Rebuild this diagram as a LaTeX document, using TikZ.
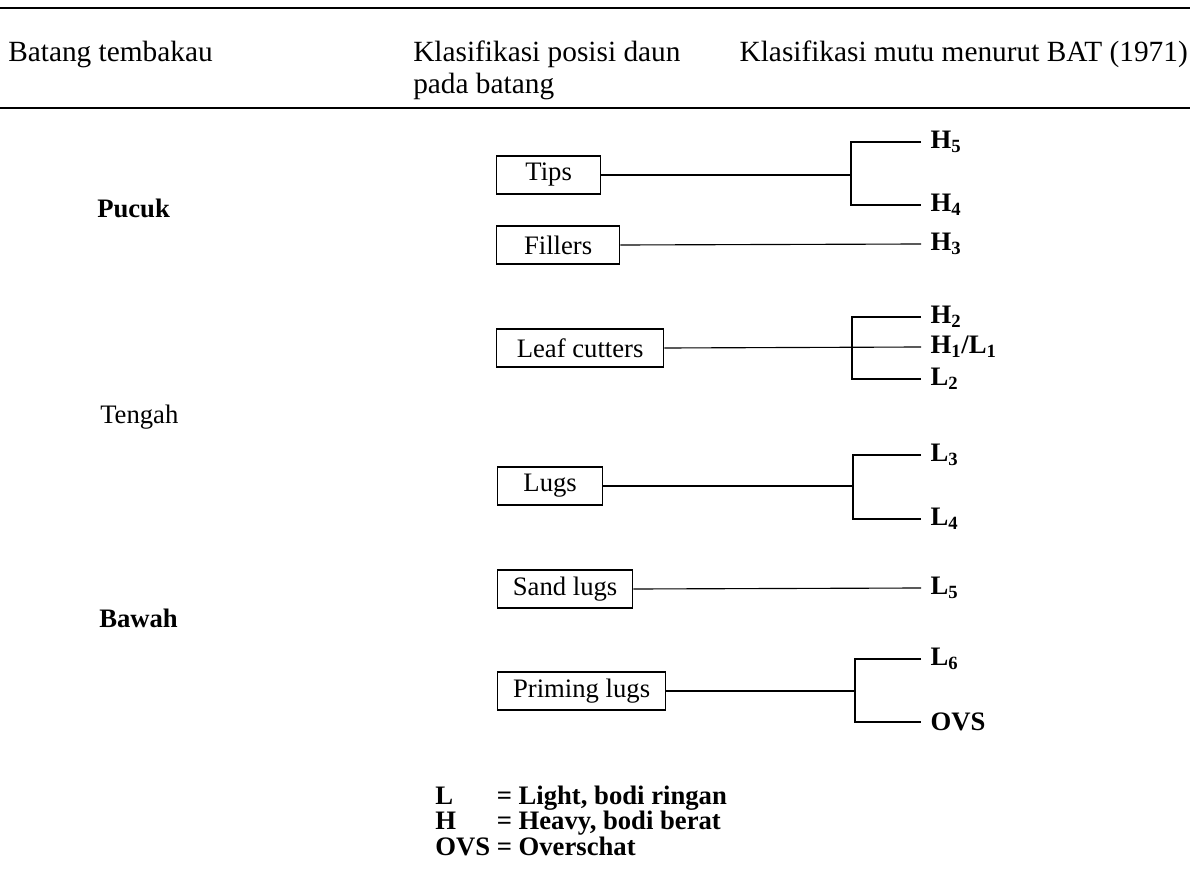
\documentclass[tikz,border=0pt]{standalone}
\usepackage{fontspec}
\setmainfont{Liberation Serif}
\usepackage{xcolor}

\begin{document}
\begin{tikzpicture}[x=0.75pt,y=0.75pt,yscale=-1,xscale=1,
  box/.style={draw, line width=0.95pt, anchor=west, minimum height=28.5pt, inner ysep=0pt, inner xsep=2pt},
  grade/.style={anchor=west, inner xsep=7pt, inner ysep=1pt, font=\bfseries},
  head/.style={inner sep=0pt, font=\fontsize{22}{24}\selectfont},
  link/.style={line width=0.85pt},
  rule/.style={line width=2pt}]
\path[use as bounding box] (0,0) rectangle (1190,870);
\fontsize{20}{24}\selectfont

%Rules of the table head
\draw [rule] (0,8) -- (1190,8) ;
\draw [rule] (0,108) -- (1190,108) ;

% Text Node
\node [head, anchor=base west] (colbatang) at (8,62) {Batang tembakau};
% Text Node
\node [head, anchor=north west, align=left] (colposisi) at (413,41) {Klasifikasi posisi daun\\pada batang};
% Text Node
\node [head, anchor=base east] (colmutu) at (1188,62) {Klasifikasi mutu menurut BAT (1971)};

% Text Node
\node [anchor=west, inner sep=0pt, font=\bfseries] (pucuk) at (97,208) {Pucuk};
% Text Node
\node [anchor=west, inner sep=0pt] (tengah) at (100,417) {Tengah};
% Text Node
\node [anchor=west, inner sep=0pt, font=\bfseries] (bawah) at (99,618) {Bawah};

%Shape: Rectangle
\node [box, minimum width=78pt] (tips) at (496,175) {Tips};
%Shape: Rectangle
\node [box, minimum width=92.25pt] (fillers) at (496,245) {Fillers};
%Shape: Rectangle
\node [box, minimum width=125.25pt] (cutters) at (496,348) {Leaf cutters};
%Shape: Rectangle
\node [box, minimum width=78.75pt] (lugs) at (497,486) {Lugs};
%Shape: Rectangle
\node [box, minimum width=101.25pt] (sandlugs) at (497,589) {Sand lugs};
%Shape: Rectangle
\node [box, minimum width=126pt] (priming) at (497,691) {Priming lugs};

% Text Node
\node [grade] (hv5) at (921,142) {H\textsubscript{5}};
\node [grade] (hv4) at (921,205) {H\textsubscript{4}};
\node [grade] (hv3) at (921,244) {H\textsubscript{3}};
\node [grade] (hv2) at (921,317) {H\textsubscript{2}};
\node [grade] (hl1) at (921,347) {H\textsubscript{1}/L\textsubscript{1}};
\node [grade] (lt2) at (921,379) {L\textsubscript{2}};
\node [grade] (lt3) at (921,455) {L\textsubscript{3}};
\node [grade] (lt4) at (921,519) {L\textsubscript{4}};
\node [grade] (lt5) at (921,588) {L\textsubscript{5}};
\node [grade] (lt6) at (921,659) {L\textsubscript{6}};
\node [grade] (ovs) at (921,722) {OVS};

%Bracket joints
\coordinate (jtips) at (851,175) ;
\coordinate (jcutters) at (852,348) ;
\coordinate (jlugs) at (853,486) ;
\coordinate (jpriming) at (855,691) ;

%Straight Lines
\draw [link] (tips.east) -- (jtips) ;
\draw [link] (hv5.west) -| (jtips) |- (hv4.west) ;
%Straight Lines
\draw [link] (fillers.east) -- (hv3.west) ;
%Straight Lines
\draw [link] (cutters.east) -- (hl1.west) ;
\draw [link] (hv2.west) -| (jcutters) |- (lt2.west) ;
%Straight Lines
\draw [link] (lugs.east) -- (jlugs) ;
\draw [link] (lt3.west) -| (jlugs) |- (lt4.west) ;
%Straight Lines
\draw [link] (sandlugs.east) -- (lt5.west) ;
%Straight Lines
\draw [link] (priming.east) -- (jpriming) ;
\draw [link] (lt6.west) -| (jpriming) |- (ovs.west) ;

% Text Node
\node [anchor=north west, inner sep=0pt, font=\bfseries] (legend) at (435,786) {\fontsize{20}{17.25}\selectfont\renewcommand{\arraystretch}{0.97}\begin{tabular}{@{}l@{ }l@{}}
L & = Light, bodi ringan\\
H & = Heavy, bodi berat\\
OVS & = Overschat
\end{tabular}};

\end{tikzpicture}
\end{document}
